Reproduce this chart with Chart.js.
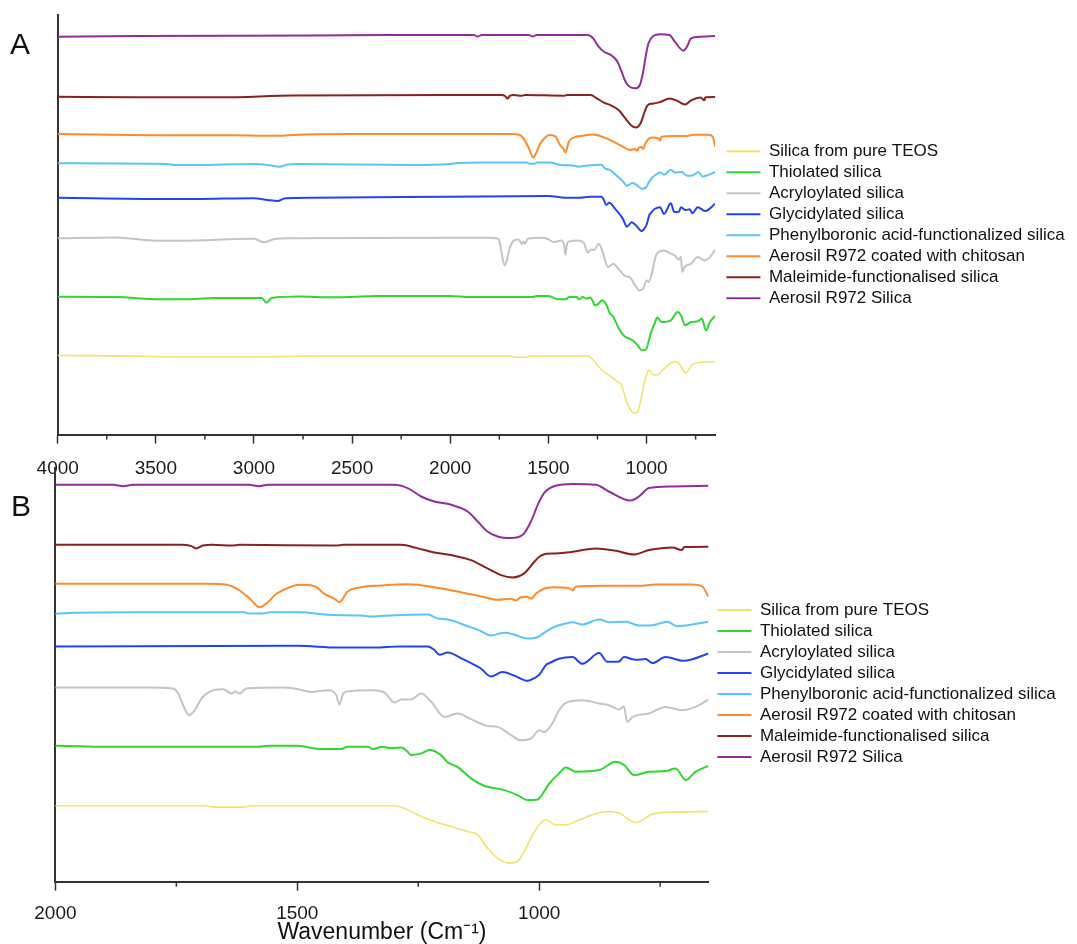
<!DOCTYPE html>
<html>
<head>
<meta charset="utf-8">
<script src="https://cdn.jsdelivr.net/npm/chart.js@4.4.1/dist/chart.umd.min.js"></script>
<style>
  body { margin: 0; background: #fff; }
  #wrap { position: relative; width: 1077px; height: 944px; overflow: hidden; }
  canvas { position: absolute; left: 0; }
  #chartA { top: 0; }
  #chartB { top: 440px; }
  .panel { position: absolute; font: 30px "Liberation Sans", Arial, sans-serif; line-height: 30px; color: #111; }
</style>
</head>
<body>
<div id="wrap">
  <canvas id="chartA" width="1077" height="485"></canvas>
  <canvas id="chartB" width="1077" height="504"></canvas>
  <div class="panel" style="left:10px;top:29px">A</div>
  <div class="panel" style="left:11px;top:491px">B</div>
</div>
<script>
// series names (legend order) and colours
const seriesNames = [
  "Silica from pure TEOS",
  "Thiolated silica",
  "Acryloylated silica",
  "Glycidylated silica",
  "Phenylboronic acid-functionalized silica",
  "Aerosil R972 coated with chitosan",
  "Maleimide-functionalised silica",
  "Aerosil R972 Silica"
];
const seriesColors = ["#f2e26a", "#2ed82e", "#c4c4c4", "#2443f0", "#5cc4fb", "#ff8a2a", "#8e1f1f", "#922d9d"];

// vertical stacking offset of each spectrum (a.u.)
const offsets = [78.6, 138.6, 196.9, 237.9, 270.6, 300.6, 339.6, 399.6];

// transmittance relative to each spectrum's level at 2000 cm-1
const wnTeos = [4000, 3600, 3400, 3000, 2700, 2000, 1690, 1674, 1612, 1595, 1299, 1272, 1244, 1217, 1182, 1148, 1127, 1107, 1086, 1062, 1045, 1031, 1017, 1003, 986, 966, 945, 917, 883, 856, 835, 800, 780, 770, 725, 650];
const tTeos = [0.5, 0, -1, -1, 0, 0, 0, -1.3, -1.3, 0, 0, -4, -10.7, -15.7, -20.7, -25.7, -29, -42.3, -52.3, -57.3, -55.7, -45.7, -32.3, -20.7, -14, -19, -19, -14, -8, -5.7, -7.3, -16.7, -12.3, -9, -6.3, -5.7];

const wnThiol = [4000, 3700, 3480, 3360, 3200, 2960, 2937, 2910, 2770, 2600, 2370, 2000, 1900, 1580, 1560, 1500, 1450, 1409, 1396, 1354, 1344, 1325, 1306, 1285, 1272, 1265, 1244, 1227, 1203, 1189, 1169, 1141, 1114, 1072, 1045, 1024, 1003, 985, 979, 959, 945, 924, 876, 842, 825, 804, 773, 739, 718, 697, 677, 650];
const tThiol = [-0.7, -1, -3.3, -3.3, -2, -2, -6.7, -2, -0.5, -1.3, 0, 0, -1, -1, 0, 0, -3.3, -3.3, -1, -1, -3.3, -1, -2.5, -1.6, -6, -9.3, -7.6, -4.3, -9.3, -16.6, -21, -32.6, -40, -44.3, -49.3, -54.3, -53.6, -42, -37.6, -27.6, -21.6, -26, -24.3, -16, -19, -29.3, -26, -25.3, -22.6, -34.3, -26, -20];

const wnAcryl = [4000, 3700, 3500, 3380, 3000, 2950, 2900, 2800, 2000, 1812, 1757, 1746, 1736, 1724, 1712, 1698, 1674, 1653, 1636, 1628, 1619, 1605, 1530, 1506, 1471, 1437, 1420, 1413, 1405, 1392, 1347, 1320, 1299, 1285, 1265, 1244, 1223, 1196, 1169, 1141, 1107, 1086, 1058, 1038, 1017, 1000, 990, 973, 959, 945, 911, 876, 856, 835, 825, 818, 807, 773, 739, 705, 677, 650];
const tAcryl = [-0.6, 0.3, -3, -3, -1, -4.6, -1.5, -0.5, 0, 0, -1, -6, -17.7, -27.7, -22.7, -11, -2.7, -1.7, -6, -4, -6, -1, 0, -1, -4.4, -2.7, -7, -17, -6, -3.7, -2.7, -5, -15, -12, -12, -6, -14.4, -29.4, -26, -31.7, -38.4, -39.4, -47.7, -52.7, -51, -42.7, -44.4, -36, -22.7, -15.4, -12.7, -16, -17.7, -22, -19, -34.4, -29.4, -26, -19.4, -22.7, -19.4, -12];

const wnGlycid = [4000, 3450, 3300, 3000, 2930, 2880, 2840, 2700, 2000, 1500, 1416, 1340, 1290, 1230, 1217, 1206, 1189, 1162, 1134, 1120, 1100, 1076, 1052, 1024, 1010, 1000, 985, 979, 959, 931, 911, 876, 859, 835, 825, 800, 780, 766, 739, 701, 650];
const tGlycid = [-1, -2.3, -2.3, -1.5, -3.3, -4.3, -1.5, -1, 0, 0.7, -1, -1, 0, 0, -3.3, -8.3, -6, -11.6, -18.3, -22.3, -30, -25.6, -29, -34.3, -31.6, -28.3, -18, -16.6, -12.3, -10.6, -17.3, -6.6, -15.3, -15, -10.6, -13.3, -12.6, -16.6, -10.6, -14.3, -7];

const wnPhenyl = [4000, 3450, 3400, 3300, 3000, 2920, 2870, 2830, 2780, 2200, 2000, 1960, 1840, 1610, 1598, 1570, 1557, 1495, 1437, 1368, 1347, 1299, 1230, 1210, 1189, 1148, 1120, 1100, 1072, 1052, 1024, 1003, 990, 973, 945, 931, 911, 876, 856, 821, 794, 766, 735, 715, 697, 650];
const tPhenyl = [0.7, 0, -1, -1, 0, -1.3, -2.7, -0.5, 0, -1, 0, 1, 1.6, 1.6, 0.3, 0.3, 1.6, 1.6, -1, -1.7, -2.7, -1.4, -0.7, -4.7, -5.7, -12.4, -17.4, -21.7, -19, -20.7, -24.7, -23.4, -19, -14, -9.7, -8.4, -10.7, -5.7, -8.4, -8, -11.7, -11.4, -8, -12.4, -11.7, -8];

const wnChitosan = [4000, 3400, 3100, 2950, 2850, 2800, 2500, 2000, 1820, 1688, 1646, 1619, 1598, 1578, 1561, 1543, 1516, 1495, 1464, 1444, 1423, 1413, 1396, 1368, 1327, 1272, 1217, 1162, 1120, 1086, 1058, 1048, 1038, 1025, 1017, 1007, 990, 973, 938, 931, 924, 862, 794, 759, 684, 663, 650];
const tChitosan = [0, -1.3, -1.3, -1.7, -1.7, -1, 0, 0, 0, 0, -1, -6.7, -15, -23.4, -18.4, -10, -3.4, -1, -2.4, -10, -15, -18.4, -7.7, -3.4, -1.7, -0.4, -3.4, -8.4, -12.7, -16, -15, -16.7, -13.4, -13, -15, -10, -5, -3.4, -4.4, -6.7, -2.7, -2, -2, -0.7, -0.7, -2.7, -13];

const wnMaleimide = [4000, 3600, 3170, 2800, 2000, 1740, 1719, 1709, 1695, 1675, 1635, 1620, 1420, 1405, 1285, 1251, 1217, 1182, 1141, 1107, 1079, 1055, 1031, 1010, 1000, 985, 966, 931, 883, 842, 804, 773, 725, 705, 700, 650];
const tMaleimide = [-1.7, -2.3, -2.3, -0.5, 0, 0, -1.3, -3.6, -0.7, 0, -0.8, 0, -0.7, 0, 0, -3.6, -7.6, -10.3, -15.3, -23.6, -30.3, -32.6, -28.6, -17, -12, -9, -8.6, -7, -3.6, -6, -9.6, -5.3, -2.6, -5.3, -2.3, -2];

const wnAerosil = [4000, 3600, 2700, 2300, 2000, 1880, 1860, 1840, 1600, 1580, 1560, 1300, 1272, 1244, 1217, 1182, 1148, 1127, 1107, 1086, 1058, 1034, 1017, 1003, 990, 966, 931, 883, 856, 811, 794, 773, 725, 650];
const tAerosil = [-1.7, -1, -0.5, 0, 0, 0, -1.5, 0, 0, -1.5, 0, 0, -3.3, -11.7, -16.7, -20, -26.7, -36.7, -46.7, -51.7, -53.3, -50, -36.7, -20, -8.3, -1, 0.7, 0, -6.7, -15.7, -11.7, -3.3, -1.7, -1];

// axis ticks
const ticksA = [4000, 3500, 3000, 2500, 2000, 1500, 1000];
const minorA = [3750, 3250, 2750, 2250, 1750, 1250, 750];
const ticksB = [2000, 1500, 1000];
const minorB = [1750, 1250, 750];

const allWn = [wnTeos, wnThiol, wnAcryl, wnGlycid, wnPhenyl, wnChitosan, wnMaleimide, wnAerosil];
const allT = [tTeos, tThiol, tAcryl, tGlycid, tPhenyl, tChitosan, tMaleimide, tAerosil];

const family = '"Liberation Sans", Arial, sans-serif';

function buildDatasets() {
    return seriesNames.map((name, i) => ({
        label: name,
        data: allWn[i].map((w, k) => ({ x: w, y: offsets[i] + allT[i][k] })),
        borderColor: seriesColors[i],
        backgroundColor: seriesColors[i],
        borderWidth: i === 0 ? 1.6 : 2,
        pointRadius: 0,
        cubicInterpolationMode: "monotone",
        borderJoinStyle: "round"
    }));
}

// short minor ticks between the labelled ones
const minorTicks = {
    id: "minorTicks",
    afterDraw(chart, args, opts) {
        const s = chart.scales.x;
        const ctx = chart.ctx;
        ctx.save();
        ctx.strokeStyle = "#333";
        ctx.lineWidth = 1.5;
        opts.values.forEach(v => {
            const px = s.getPixelForValue(v);
            ctx.beginPath();
            ctx.moveTo(px, s.top);
            ctx.lineTo(px, s.top + 5);
            ctx.stroke();
        });
        ctx.restore();
    }
};

function makeChart(id, cfg) {
    const ctx = document.getElementById(id).getContext("2d");
    return new Chart(ctx, {
        type: "line",
        data: { datasets: buildDatasets() },
        plugins: [minorTicks],
        options: {
            responsive: false,
            animation: false,
            layout: { padding: cfg.padding },
            plugins: {
                tooltip: { enabled: false },
                minorTicks: { values: cfg.minor },
                legend: {
                    position: "right",
                    fullSize: false,
                    maxWidth: 500,
                    title: cfg.legendTitle,
                    labels: {
                        boxWidth: 34,
                        boxHeight: 2,
                        padding: 4,
                        color: "#111",
                        font: { size: 17, family: family },
                        generateLabels: chart => Chart.defaults.plugins.legend.labels.generateLabels(chart)
                            .map(l => Object.assign(l, { fillStyle: l.strokeStyle, lineWidth: 0 }))
                    }
                }
            },
            scales: {
                x: {
                    type: "linear",
                    reverse: true,
                    min: 650,
                    max: cfg.xmax,
                    afterBuildTicks: s => { s.ticks = cfg.ticks.map(v => ({ value: v })); },
                    afterFit: s => { s.height = cfg.xHeight; },
                    grid: { display: true, drawOnChartArea: false, drawTicks: true, tickLength: 9, tickColor: "#333", tickWidth: 1.5 },
                    border: { display: true, color: "#333", width: 2 },
                    ticks: {
                        autoSkip: false,
                        maxRotation: 0,
                        padding: cfg.tickPad,
                        color: "#1a1a1a",
                        font: { size: 19, family: family },
                        callback: v => String(v)
                    },
                    title: cfg.xTitle
                },
                y: {
                    min: cfg.ymin,
                    max: cfg.ymax,
                    afterFit: s => { s.width = 0; },
                    ticks: { display: false },
                    grid: { display: false, drawTicks: false },
                    border: { display: true, color: "#333", width: 2 }
                },
                y2: {
                    position: "right",
                    afterFit: s => { s.width = cfg.gap; },
                    ticks: { display: false },
                    grid: { display: false, drawTicks: false },
                    border: { display: false }
                }
            }
        }
    });
}

// panel A: full range
makeChart("chartA", {
    padding: { left: 57.7, top: 15, right: 2.3, bottom: 0 },
    legendTitle: { display: false },
    gap: 7.2,
    xmax: 4000,
    ticks: ticksA,
    minor: minorA,
    xHeight: 50.4,
    tickPad: 14,
    xTitle: { display: false },
    ymin: 0,
    ymax: 419.6
});

// panel B: fingerprint region
makeChart("chartB", {
    padding: { left: 55.4, top: 28, right: 11.3, bottom: 0 },
    legendTitle: { display: true, text: "", font: { size: 12 }, padding: { top: 1.5, bottom: 1.5 } },
    gap: 4.9,
    xmax: 2000,
    ticks: ticksB,
    minor: minorB,
    xHeight: 62.3,
    tickPad: 12,
    xTitle: {
        display: true,
        text: "Wavenumber (Cm\u207B\u00B9)",
        color: "#111",
        font: { size: 23, family: family, lineHeight: 1 },
        padding: { top: 0, bottom: 0 }
    },
    ymin: 2.7,
    ymax: 416.4
});
</script>
</body>
</html>
